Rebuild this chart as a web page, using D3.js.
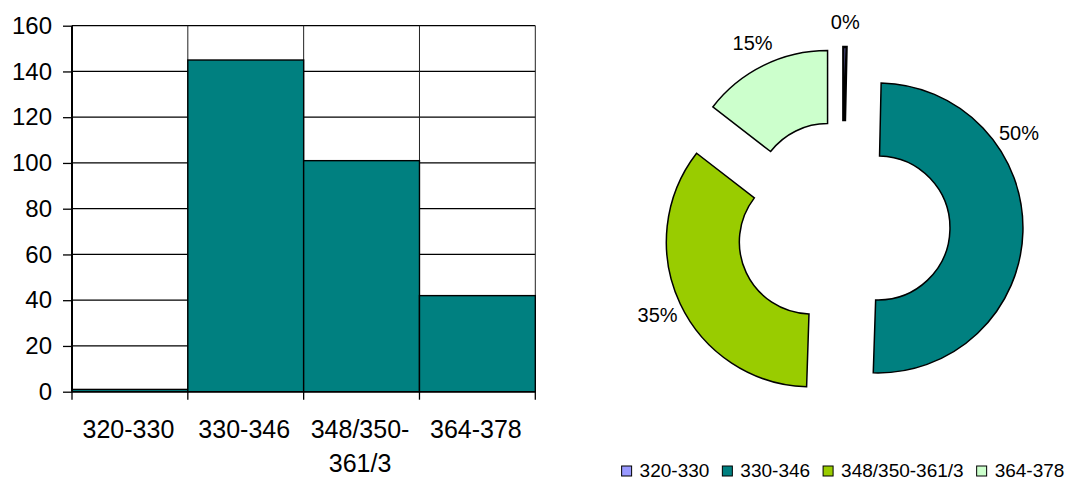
<!DOCTYPE html>
<html>
<head>
<meta charset="utf-8">
<script src="https://cdn.jsdelivr.net/npm/d3@7"></script>
<style>
  body { margin: 0; background: #fff; }
  svg { display: block; font-family: "Liberation Sans", Arial, sans-serif; }
</style>
</head>
<body>
<script>
// data
var categories = ["320-330", "330-346", "348/350-361/3", "364-378"];
var counts = [1, 145, 101, 42];
var yTicks = [0, 20, 40, 60, 80, 100, 120, 140, 160];
var colors = ["#9999ff", "#008080", "#99cc00", "#ccffcc"];

var width = 1078,
    height = 482;

var svg = d3.select("body").append("svg")
    .attr("width", width)
    .attr("height", height);

svg.append("rect").attr("width", width).attr("height", height).attr("fill", "#fff");

// ---- bar chart (left) ----
var plot = {left: 72, right: 535.3, top: 25.7, bottom: 391.7};

var x = d3.scaleBand()
    .domain(categories)
    .range([plot.left, plot.right])
    .padding(0);

var y = d3.scaleLinear()
    .domain([0, 160])
    .range([plot.bottom, plot.top]);

var bar = svg.append("g");

// horizontal gridlines
bar.selectAll("line.hgrid")
    .data(yTicks)
  .enter().append("line")
    .attr("class", "hgrid")
    .attr("x1", plot.left).attr("x2", plot.right)
    .attr("y1", function(d) { return y(d); })
    .attr("y2", function(d) { return y(d); })
    .attr("stroke", "#000")
    .attr("stroke-width", 1.3);

// vertical gridlines at category boundaries
var bounds = categories.map(function(c) { return x(c) + x.bandwidth(); });
bar.selectAll("line.vgrid")
    .data(bounds)
  .enter().append("line")
    .attr("class", "vgrid")
    .attr("x1", function(d) { return d; }).attr("x2", function(d) { return d; })
    .attr("y1", plot.top).attr("y2", plot.bottom)
    .attr("stroke", "#222")
    .attr("stroke-width", 1);

bar.selectAll("rect.bar")
    .data(counts)
  .enter().append("rect")
    .attr("class", "bar")
    .attr("x", function(d, i) { return x(categories[i]); })
    .attr("y", function(d) { return y(d); })
    .attr("width", x.bandwidth())
    .attr("height", function(d) { return y(0) - y(d); })
    .attr("fill", "#008080")
    .attr("stroke", "#000")
    .attr("stroke-width", 1.4);

// y axis
var yAxis = bar.append("g")
    .attr("transform", "translate(" + plot.left + ",0)")
    .call(d3.axisLeft(y).tickValues(yTicks).tickSize(9).tickPadding(11));
yAxis.select(".domain").attr("stroke", "#000").attr("stroke-width", 2).attr("d", "M0," + plot.top + "V" + plot.bottom);
yAxis.selectAll(".tick line").attr("stroke", "#000").attr("stroke-width", 1.3);
yAxis.selectAll(".tick text")
    .attr("fill", "#000")
    .style("font-size", "24px")
    .style("font-family", "'Liberation Sans', Arial, sans-serif");

// x axis: line + ticks at boundaries
bar.append("line")
    .attr("x1", plot.left).attr("x2", plot.right)
    .attr("y1", y(0)).attr("y2", y(0))
    .attr("stroke", "#000").attr("stroke-width", 1.5);
bar.selectAll("line.xtick")
    .data([plot.left].concat(bounds))
  .enter().append("line")
    .attr("class", "xtick")
    .attr("x1", function(d) { return d; }).attr("x2", function(d) { return d; })
    .attr("y1", y(0)).attr("y2", y(0) + 8)
    .attr("stroke", "#000").attr("stroke-width", 1.3);

var xLabels = bar.selectAll("text.xlab")
    .data(categories)
  .enter().append("text")
    .attr("class", "xlab")
    .attr("x", function(d) { return x(d) + x.bandwidth() / 2 - 1.5; })
    .attr("y", 438)
    .attr("text-anchor", "middle")
    .style("font-size", "25px")
    .text(function(d) { return d; });

// wrap long labels after the hyphen
xLabels.each(function(d) {
  var t = d3.select(this);
  if (this.getComputedTextLength() > x.bandwidth() - 4) {
    var k = d.indexOf("-") + 1;
    var cx = +t.attr("x");
    t.text(null);
    t.append("tspan").attr("x", cx).attr("dy", 0).text(d.slice(0, k));
    t.append("tspan").attr("x", cx).attr("dy", 34).text(d.slice(k));
  }
});

// ---- exploded doughnut (right) ----
var center = {x: 843, y: 227},
    outerR = 145,
    innerR = 72,
    explode = 35,
    labelDist = 170,
    labelAngleDeg = {"330-346": 56};

var total = d3.sum(counts);
var pie = d3.pie().sort(null).value(function(d) { return d; });
var arcs = pie(counts);
var arc = d3.arc().innerRadius(innerR).outerRadius(outerR);

var donut = svg.append("g")
    .attr("transform", "translate(" + center.x + "," + center.y + ")");

var slice = donut.selectAll("g.slice")
    .data(arcs)
  .enter().append("g")
    .attr("class", "slice")
    .attr("transform", function(d) {
      var a = (d.startAngle + d.endAngle) / 2;
      return "translate(" + (Math.sin(a) * explode) + "," + (-Math.cos(a) * explode) + ")";
    });

slice.append("path")
    .attr("d", arc)
    .attr("fill", function(d, i) { return colors[i]; })
    .attr("stroke", "#000")
    .attr("stroke-width", function(d) { return (d.endAngle - d.startAngle) < 0.05 ? 2.5 : 1.5; });

slice.append("text")
    .attr("transform", function(d, i) {
      var a = (d.startAngle + d.endAngle) / 2;
      if (labelAngleDeg[categories[i]] != null) a = labelAngleDeg[categories[i]] * Math.PI / 180;
      return "translate(" + (Math.sin(a) * labelDist) + "," + (-Math.cos(a) * labelDist) + ")";
    })
    .attr("text-anchor", "middle")
    .attr("dy", "0.36em")
    .style("font-size", "20px")
    .text(function(d) { return Math.round(d.value / total * 100) + "%"; });

// legend
var legend = svg.append("g");
var item = legend.selectAll("g.item")
    .data(categories)
  .enter().append("g")
    .attr("class", "item");

item.append("rect")
    .attr("width", 10).attr("height", 10)
    .attr("y", 466)
    .attr("fill", function(d, i) { return colors[i]; })
    .attr("stroke", "#000")
    .attr("stroke-width", 1);

item.append("text")
    .attr("x", 18)
    .attr("y", 477)
    .style("font-size", "19px")
    .text(function(d) { return d; });

var pos = 0, gap = 13;
item.each(function() {
  var w = d3.select(this).select("text").node().getComputedTextLength();
  d3.select(this).attr("data-x", pos);
  pos += 18 + w + gap;
});
var legendW = pos - gap;
var lx = center.x - legendW / 2;
item.attr("transform", function() { return "translate(" + (lx + +d3.select(this).attr("data-x")) + ",0)"; });
</script>
</body>
</html>
